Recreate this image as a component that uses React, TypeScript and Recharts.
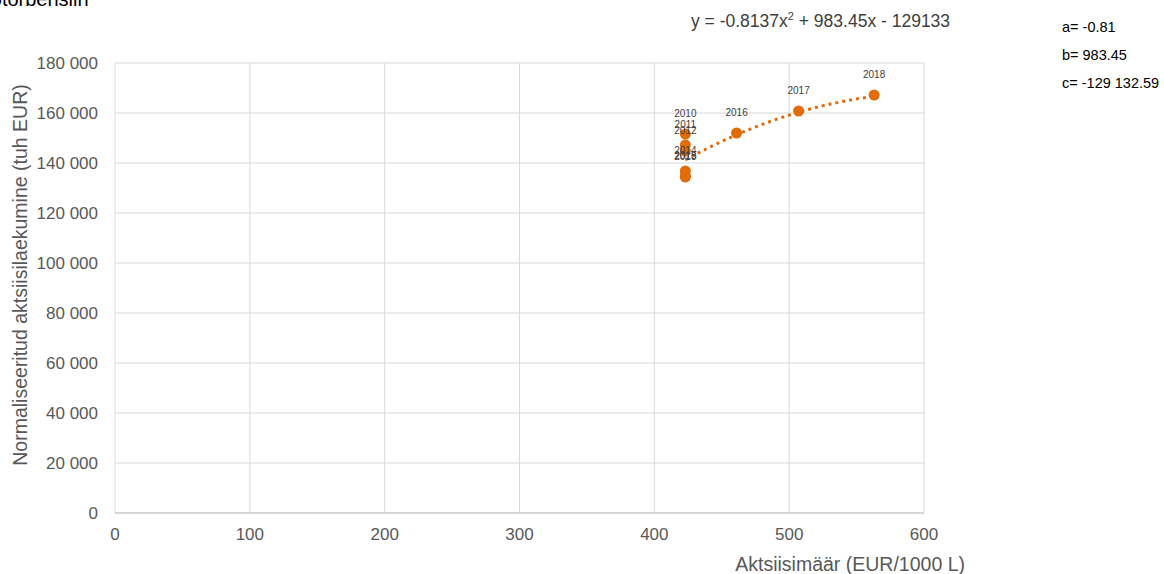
import React from 'react';
import { ScatterChart, Scatter, XAxis, YAxis, ZAxis, CartesianGrid, LabelList } from 'recharts';

// Excise rate (EUR/1000 L) vs normalised excise revenue (th EUR), by year
const years = [2010, 2011, 2012, 2013, 2014, 2015, 2016, 2017, 2018];
const rates = [423, 423, 423, 423, 423, 423, 461, 507, 563];
const revenues = [151600, 147200, 144800, 134400, 136800, 134800, 152000, 160800, 167200];

// Polynomial trend coefficients (as printed next to the chart)
const coefA = -0.8137;
const coefB = 983.45;
const coefC = -129133;
const trendX = [423, 433, 443, 453, 463, 473, 483, 493, 503, 513, 523, 533, 543, 553, 563];

const xTicks = [0, 100, 200, 300, 400, 500, 600];
const yTicks = [0, 20000, 40000, 60000, 80000, 100000, 120000, 140000, 160000, 180000];

const points = years.map((year, i) => ({ year, x: rates[i], y: revenues[i] }));
const trend = trendX.map((x) => ({ x, y: coefA * x * x + coefB * x + coefC }));

const ORANGE = '#e36c0a';
const FONT = '"Liberation Sans", Arial, sans-serif';

const fmt = (v: number) => String(v).replace(/\B(?=(\d{3})+(?!\d))/g, ' ');

const Dot = (p: any) => <circle cx={p.cx} cy={p.cy} r={5.5} fill={ORANGE} />;

const App: React.FC = () => {
  return (
    <div style={{ position: 'absolute', left: 0, top: 0, width: 1164, height: 574, background: '#fff', fontFamily: FONT }}>
      <ScatterChart width={1164} height={574} margin={{ top: 63, right: 240, bottom: 31, left: 0 }}>
        <CartesianGrid stroke="#d9d9d9" />
        <XAxis
          type="number"
          dataKey="x"
          domain={[0, 600]}
          ticks={xTicks}
          tickLine={false}
          axisLine={{ stroke: '#bfbfbf' }}
          tickSize={0}
          tickMargin={15}
          tick={{ fill: '#595959', fontSize: 17, fontFamily: FONT }}
        />
        <YAxis
          type="number"
          dataKey="y"
          width={115}
          domain={[0, 180000]}
          ticks={yTicks}
          tickFormatter={fmt}
          tickLine={false}
          axisLine={false}
          tickSize={0}
          tickMargin={17}
          tick={{ fill: '#595959', fontSize: 17, fontFamily: FONT }}
        />
        <ZAxis range={[95, 95]} />
        <Scatter
          data={trend}
          fill="none"
          shape={() => <g />}
          line={{ stroke: ORANGE, strokeWidth: 3, strokeDasharray: '3 4' }}
          isAnimationActive={false}
        />
        <Scatter data={points} fill={ORANGE} shape={Dot} isAnimationActive={false}>
          <LabelList dataKey="year" position="top" offset={12} fill="#404040" fontSize={10} fontFamily={FONT} />
        </Scatter>
        <text x={-37} y={6} fontSize={20} fill="#000" fontFamily={FONT}>Mootorbensiin</text>
        <text x={691} y={27} fontSize={17.5} fill="#404040" fontFamily={FONT}>
          y = -0.8137x<tspan dy={-7} fontSize={11}>2</tspan>
          <tspan dy={7}> + 983.45x - 129133</tspan>
        </text>
        <text x={1062} y={32} fontSize={14.5} fill="#000" fontFamily={FONT}>a= -0.81</text>
        <text x={1062} y={60} fontSize={14.5} fill="#000" fontFamily={FONT}>b= 983.45</text>
        <text x={1062} y={88} fontSize={14.5} fill="#000" fontFamily={FONT}>c= -129 132.59</text>
        <text
          x={20}
          y={275}
          transform="rotate(-90 20 275)"
          textAnchor="middle"
          dominantBaseline="central"
          fontSize={19.5}
          fill="#595959"
          fontFamily={FONT}
        >
          Normaliseeritud aktsiisilaekumine (tuh EUR)
        </text>
        <text x={965} y={571} textAnchor="end" fontSize={19.5} fill="#595959" fontFamily={FONT}>
          Aktsiisimäär (EUR/1000 L)
        </text>
      </ScatterChart>
    </div>
  );
};

export default App;
